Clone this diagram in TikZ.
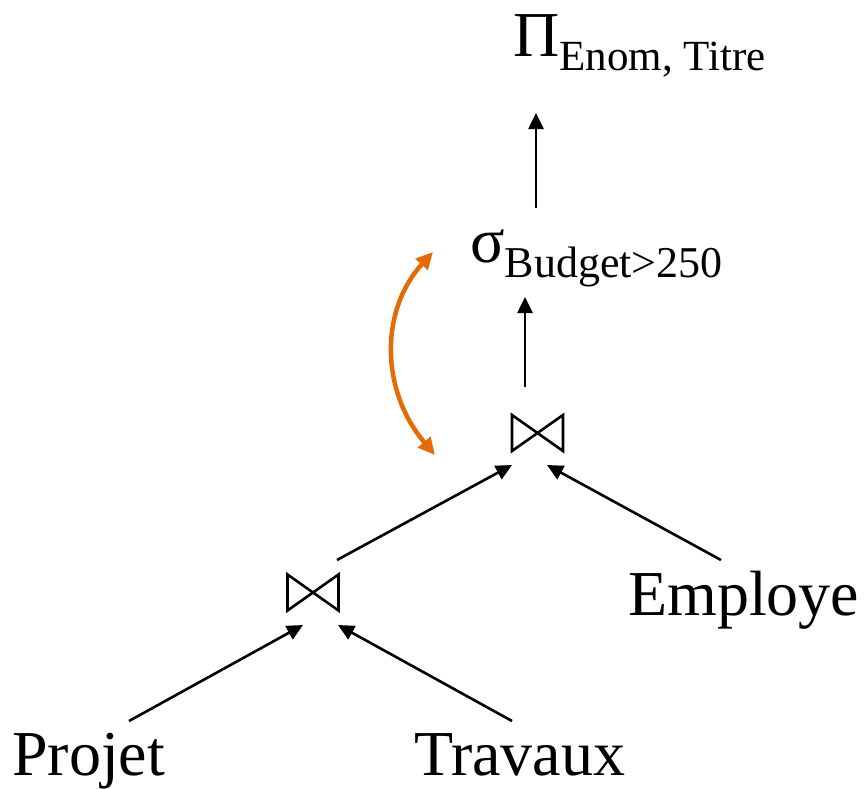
\documentclass[tikz,border=0pt]{standalone}
\usepackage{fontspec}
\setmainfont{Liberation Serif}
\usetikzlibrary{arrows.meta}
\definecolor{swaporange}{HTML}{E36C09}
\begin{document}
\begin{tikzpicture}[x=1pt,y=-1pt,
  term/.style={anchor=base west, inner sep=0pt, font=\fontsize{64}{72}\selectfont},
  flow/.style={line width=2.6pt, -{Triangle[length=16pt,width=15pt]}},
  joinbox/.style={minimum width=51pt, minimum height=36pt, inner sep=0pt, outer sep=0pt},
  joinline/.style={line width=2.6pt, line join=miter},
  swap/.style={draw=swaporange, line width=4.5pt,
    {Triangle[length=17pt,width=16pt]}-{Triangle[length=17pt,width=16pt]}}]
\useasboundingbox (0,0) rectangle (865,788);

% leaves and operators
\node[term] (proj) at (12,775) {Projet};
\node[term] (trav) at (414,775) {Travaux};
\node[term] (emp)  at (628,615) {Employe};
\node[term] (sel)  at (470,262) {σ\raisebox{-15pt}{\fontsize{44}{49}\selectfont Budget>250}};
\node[term] (pi)   at (513,56)  {Π\raisebox{-14pt}{\fontsize{43}{48}\selectfont Enom, Titre}};

% join symbols
\node[joinbox] (j1) at (313,592.5) {};
\node[joinbox] (j2) at (537.5,433) {};
\foreach \j in {j1,j2}
  \draw[joinline] (\j.north west) -- (\j.south east) -- (\j.north east) -- (\j.south west) -- cycle;

% free ends of the edges
\coordinate (projout) at (129,721);
\coordinate (travout) at (512,721);
\coordinate (empout)  at (721,560);
\coordinate (selin)   at (525,297);
\coordinate (selout)  at (536,208);
\coordinate (piin)    at (536,113);
\coordinate (swapbot) at (435,455);
\coordinate (swaptop) at (433,252);

% tree edges
\draw[flow] (projout) -- ([xshift=-10pt,yshift=-14.5pt]j1.south);
\draw[flow] (travout) -- ([xshift=25pt,yshift=-14.5pt]j1.south);
\draw[flow] ([xshift=24pt,yshift=14.5pt]j1.north) -- ([xshift=-25.5pt,yshift=-14pt]j2.south);
\draw[flow] (empout) -- ([xshift=9.5pt,yshift=-14pt]j2.south);
\draw[flow] ([xshift=-12.5pt,yshift=28pt]j2.north) -- (selin);
\draw[flow] (selout) -- (piin);

% exchange of selection and join
\draw[swap] (swapbot) .. controls (380,390) and (380,310) .. (swaptop);
\end{tikzpicture}
\end{document}
